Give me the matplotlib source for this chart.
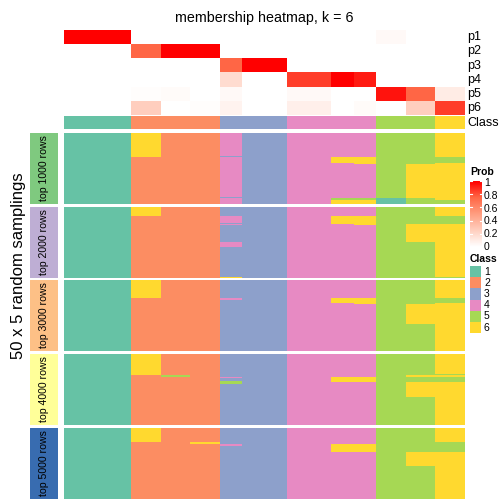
import numpy as np
import matplotlib
matplotlib.use("Agg")
import matplotlib.pyplot as plt
from matplotlib.colors import ListedColormap, LinearSegmentedColormap

plt.rcParams['font.family'] = ['Liberation Sans', 'DejaVu Sans']

# column groups of samples (widths in samples) and their class
group_width = [9, 4, 4, 4, 3, 6, 6, 3, 3, 4, 4, 4]
group_class = [1, 2, 2, 2, 3, 3, 4, 4, 4, 5, 5, 6]

# membership probabilities per group, rows p1..p6
prob = [
    [1.00, 0.00, 0.00, 0.00, 0.00, 0.00, 0.00, 0.00, 0.00, 0.03, 0.00, 0.00],
    [0.00, 0.75, 1.00, 1.00, 0.00, 0.00, 0.00, 0.00, 0.00, 0.00, 0.00, 0.00],
    [0.00, 0.00, 0.00, 0.00, 0.75, 1.00, 0.00, 0.00, 0.00, 0.00, 0.00, 0.00],
    [0.00, 0.00, 0.00, 0.00, 0.18, 0.00, 0.85, 1.00, 0.93, 0.00, 0.00, 0.00],
    [0.00, 0.01, 0.02, 0.00, 0.03, 0.00, 0.03, 0.00, 0.00, 0.95, 0.75, 0.10],
    [0.00, 0.25, 0.00, 0.01, 0.06, 0.00, 0.08, 0.00, 0.02, 0.00, 0.25, 0.85],
]
prob_labels = ['p1', 'p2', 'p3', 'p4', 'p5', 'p6']

# class runs (class, n rows) for groups that differ from their class, 50 rows per panel
panel_names = ['top 1000 rows', 'top 2000 rows', 'top 3000 rows', 'top 4000 rows', 'top 5000 rows']
panel_colors = ['#7FC97F', '#BEAED4', '#FDC086', '#FFFF99', '#386CB0']
runs_1000 = {
    1: [(6, 17), (2, 33)],
    4: [(4, 16), (3, 1), (4, 28), (3, 1), (4, 4)],
    7: [(4, 17), (6, 4), (4, 25), (5, 1), (6, 3)],
    8: [(4, 17), (6, 5), (4, 24), (5, 1), (6, 3)],
    9: [(5, 46), (1, 4)],
    10: [(5, 22), (6, 24), (5, 4)],
    11: [(6, 17), (5, 4), (6, 26), (5, 3)],
}
runs_2000 = {
    1: [(6, 6), (2, 44)],
    4: [(3, 6), (4, 5), (3, 1), (4, 1), (3, 12), (4, 3), (3, 21), (6, 1)],
    7: [(4, 6), (6, 6), (4, 38)],
    8: [(4, 6), (6, 7), (4, 37)],
    10: [(5, 12), (6, 13), (5, 25)],
    11: [(6, 6), (5, 6), (6, 37), (5, 1)],
}
runs_3000 = {
    1: [(6, 13), (2, 37)],
    4: [(3, 13), (4, 1), (3, 36)],
    7: [(4, 13), (6, 3), (4, 34)],
    8: [(4, 13), (6, 4), (4, 33)],
    10: [(5, 17), (6, 14), (5, 19)],
    11: [(6, 13), (5, 3), (6, 34)],
}
runs_4000 = {
    1: [(6, 15), (2, 35)],
    2: [(2, 15), (5, 1), (2, 34)],
    4: [(3, 16), (4, 1), (3, 2), (5, 2), (3, 29)],
    7: [(4, 16), (6, 4), (4, 30)],
    8: [(4, 16), (6, 4), (4, 30)],
    10: [(5, 15), (6, 1), (5, 4), (6, 10), (5, 20)],
    11: [(6, 14), (5, 1), (6, 1), (5, 4), (6, 30)],
}
runs_5000 = {
    1: [(6, 10), (2, 40)],
    3: [(2, 10), (6, 1), (2, 39)],
    4: [(3, 11), (4, 2), (3, 37)],
    7: [(4, 11), (6, 6), (4, 33)],
    8: [(4, 11), (6, 6), (4, 33)],
    10: [(5, 17), (6, 10), (5, 23)],
    11: [(6, 10), (5, 7), (6, 33)],
}
panel_runs = [runs_1000, runs_2000, runs_3000, runs_4000, runs_5000]
n_rows = 50

class_colors = ['#66C2A5', '#FC8D62', '#8DA0CB', '#E78AC3', '#A6D854', '#FFD92F']
class_cmap = ListedColormap(class_colors)
# white -> red, roughly like the LAB ramp
prob_cmap = LinearSegmentedColormap.from_list(
    'prob', [(0, '#FFFFFF'), (0.25, '#FFCFBF'), (0.5, '#FF9E81'), (0.75, '#FF6846'), (1, '#FF0000')])

W = H = 504
fig = plt.figure(figsize=(5.04, 5.04), dpi=100)


def ax_px(x0, y0, x1, y1):
    ax = fig.add_axes([x0 / W, 1 - y1 / H, (x1 - x0) / W, (y1 - y0) / H])
    ax.set_axis_off()
    return ax


def expand(vals):
    return np.repeat(np.asarray(vals), group_width, axis=-1)


X0, X1 = 64, 465

# probability rows
ax = ax_px(X0, 30, X1, 115)
ax.imshow(expand(prob), cmap=prob_cmap, vmin=0, vmax=1, aspect='auto', interpolation='nearest')
for i, lab in enumerate(prob_labels):
    fig.text(467 / W, 1 - (30 + 14.2 * (i + 0.5)) / H, lab, fontsize=9, va='center')

# class row
ax = ax_px(X0, 116, X1, 129.5)
ax.imshow(expand(group_class)[None, :], cmap=class_cmap, vmin=0.5, vmax=6.5,
          aspect='auto', interpolation='nearest')
fig.text(467 / W, 1 - 123 / H, 'Class', fontsize=9, va='center')

# sampling panels
tops = [133, 207, 280, 354, 428]
ph = 71
for k, top in enumerate(tops):
    mat = np.zeros((n_rows, len(group_width)), dtype=int)
    for g in range(len(group_width)):
        runs = panel_runs[k].get(g, [(group_class[g], n_rows)])
        col = np.concatenate([[c] * n for c, n in runs])
        mat[:, g] = col
    ax = ax_px(X0, top, X1, top + ph)
    ax.imshow(expand(mat), cmap=class_cmap, vmin=0.5, vmax=6.5,
              aspect='auto', interpolation='nearest')
    axl = ax_px(30, top, 58, top + ph)
    axl.add_patch(plt.Rectangle((0, 0), 1, 1, color=panel_colors[k], transform=axl.transAxes))
    axl.text(0.5, 0.5, panel_names[k], rotation=90, fontsize=7.6, ha='center', va='center',
             transform=axl.transAxes)

fig.text(19 / W, 1 - 266 / H, '50 x 5 random samplings', rotation=90, fontsize=12,
         ha='center', va='center')
fig.text(264 / W, 1 - 18 / H, 'membership heatmap, k = 6', fontsize=10.3,
         ha='center', va='center')

# Prob legend
fig.text(470 / W, 1 - 172 / H, 'Prob', fontsize=7.5, fontweight='bold', va='center')
axc = ax_px(470, 181, 482, 247)
grad = np.linspace(1, 0, 100)[:, None]
axc.imshow(grad, cmap=prob_cmap, vmin=0, vmax=1, aspect='auto', extent=(0, 1, 0, 1))
axc.set_xlim(0, 1)
axc.set_ylim(0, 1)
for t in [0, 0.2, 0.4, 0.6, 0.8, 1.0]:
    axc.plot([0, 0.2], [t, t], color='white', lw=0.8)
    axc.plot([0.8, 1], [t, t], color='white', lw=0.8)
    fig.text(484 / W, 1 - (247 - 64 * t) / H, f'{t:g}', fontsize=7.5, va='center')

# Class legend
fig.text(470 / W, 1 - 259 / H, 'Class', fontsize=7.5, fontweight='bold', va='center')
for i, c in enumerate(class_colors):
    y0 = 266 + 11.2 * i
    axs = ax_px(470, y0, 481, y0 + 11.2)
    axs.add_patch(plt.Rectangle((0, 0), 1, 1, color=c, transform=axs.transAxes))
    fig.text(484 / W, 1 - (y0 + 5.6) / H, str(i + 1), fontsize=7.5, va='center')

fig.savefig('out.png', dpi=100)
